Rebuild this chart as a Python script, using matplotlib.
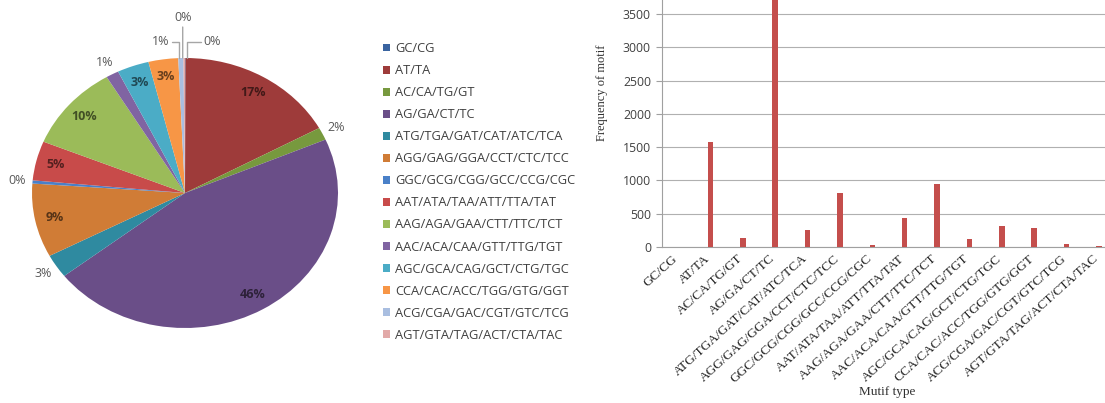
"""SSR motif type distribution: pie (share) + bar (frequency)."""

import matplotlib
matplotlib.use("Agg")
import matplotlib.pyplot as plt
import matplotlib.transforms as mtransforms
import numpy as np

motifs = [
    "GC/CG", "AT/TA", "AC/CA/TG/GT", "AG/GA/CT/TC",
    "ATG/TGA/GAT/CAT/ATC/TCA", "AGG/GAG/GGA/CCT/CTC/TCC",
    "GGC/GCG/CGG/GCC/CCG/CGC", "AAT/ATA/TAA/ATT/TTA/TAT",
    "AAG/AGA/GAA/CTT/TTC/TCT", "AAC/ACA/CAA/GTT/TTG/TGT",
    "AGC/GCA/CAG/GCT/CTG/TGC", "CCA/CAC/ACC/TGG/GTG/GGT",
    "ACG/CGA/GAC/CGT/GTC/TCG", "AGT/GTA/TAG/ACT/CTA/TAC",
]
counts = [5, 1570, 140, 4254, 261, 817, 35, 436, 948, 125, 311, 291, 50, 15]
yticks = [0, 500, 1000, 1500, 2000, 2500, 3000, 3500]

pie_colors = [
    "#3A64A0", "#9E3B3A", "#77993E", "#6A4E88", "#2F8AA0", "#D07C36",
    "#4A80C8", "#C84B4A", "#9BBB59", "#8064A2", "#4BACC6", "#F79646",
    "#A9BEE0", "#E2A9A8",
]

W, H = 1105, 403
fig = plt.figure(figsize=(W / 100, H / 100), dpi=100)
sans = ["Open Sans", "DejaVu Sans"]
serif = ["Liberation Serif", "DejaVu Serif"]

# ---------------- pie ----------------
cx, cy, rx, ry = 185, 193, 153, 135
pax = fig.add_axes([0, 0, 370 / W, 1])
wedges, _ = pax.pie(counts, colors=pie_colors, startangle=90, counterclock=False,
                    wedgeprops=dict(linewidth=0))
pax.set_aspect("auto")
pax.set_xlim(-cx / rx, (370 - cx) / rx)
pax.set_ylim(-(H - cy) / ry, cy / ry)

total = sum(counts)
pct = [100 * c / total for c in counts]
n = len(counts)
for i, w in enumerate(wedges):
    txt = f"{pct[i]:.0f}%"
    ang = np.deg2rad((w.theta1 + w.theta2) / 2)
    if i in (0, n - 2, n - 1):
        continue
    if pct[i] >= 3:
        r = 0.87
        col = tuple(np.array(matplotlib.colors.to_rgb(pie_colors[i])) * 0.42)
    else:
        r = 1.1
        col = "#595959"
    pax.text(r * np.cos(ang), r * np.sin(ang), txt, ha="center", va="center",
             fontsize=9, fontweight="bold" if pct[i] >= 3 else "normal",
             color=col, family=sans)

# tiny slices at 12 o'clock get leader lines
lead = dict(arrowstyle="-", color="#A6A6A6", lw=1.0, shrinkA=0, shrinkB=0)
top = 1.0
pax.annotate(f"{pct[0]:.0f}%", xy=(0.01, top), xytext=(0.12, 1.12), fontsize=9,
             color="#595959", family=sans, ha="left", va="center",
             arrowprops=dict(lead, connectionstyle="angle,angleA=0,angleB=90"))
pax.annotate(f"{pct[n - 2]:.0f}%", xy=(-0.04, top), xytext=(-0.1, 1.12), fontsize=9,
             color="#595959", family=sans, ha="right", va="center",
             arrowprops=dict(lead, connectionstyle="angle,angleA=0,angleB=90"))
pax.annotate(f"{pct[n - 1]:.0f}%", xy=(-0.015, top), xytext=(-0.015, 1.25), fontsize=9,
             color="#595959", family=sans, ha="center", va="bottom",
             arrowprops=lead)

fig.legend(wedges, motifs, loc="upper left", bbox_to_anchor=(378 / W, 1 - 37 / H),
           frameon=False, handlelength=0.55, handleheight=0.55,
           handletextpad=0.35, labelspacing=0.7, borderaxespad=0,
           prop=dict(family=sans, size=9.3), labelcolor="#404040")

# ---------------- bar ----------------
x0, x1 = 662, 1115
y_base = 247
bax = fig.add_axes([x0 / W, 1 - y_base / H, (x1 - x0) / W, y_base / H])
x = np.arange(n)
bax.bar(x, counts, width=0.17, color="#C44E4C", zorder=3)
bax.set_xlim(-0.5, n - 0.5)
bax.set_ylim(0, 3710)
bax.set_yticks(yticks)
bax.set_yticklabels([str(t) for t in yticks], family=sans, fontsize=8.8, color="#404040")
bax.grid(axis="y", color="#B0B0B0", lw=0.8, zorder=0)
for s in ("top", "right"):
    bax.spines[s].set_visible(False)
bax.spines["left"].set_color("#A0A0A0")
bax.spines["bottom"].set_color("#A0A0A0")
bax.tick_params(axis="y", length=4, color="#A0A0A0", pad=4)
bax.tick_params(axis="x", length=0, pad=4)
bax.set_xticks(x)
bax.set_xticklabels(motifs, rotation=42, ha="right", rotation_mode="anchor",
                    family=serif, fontsize=9.6, color="#202020")
# nudge the slanted labels left so the last one stays inside the figure
shift = mtransforms.ScaledTranslation(-6 / 100, 0, fig.dpi_scale_trans)
for lab in bax.get_xticklabels():
    lab.set_transform(lab.get_transform() + shift)
bax.set_ylabel("Frequency of motif", family=serif, fontsize=9, color="#303030")
bax.yaxis.set_label_coords((608 - x0) / (x1 - x0), (y_base - 93) / y_base)
fig.text(887 / W, 1 - 392 / H, "Mutif type", ha="center", va="center",
         family=serif, fontsize=9.5, color="#303030")

fig.savefig("out.png", dpi=100)
